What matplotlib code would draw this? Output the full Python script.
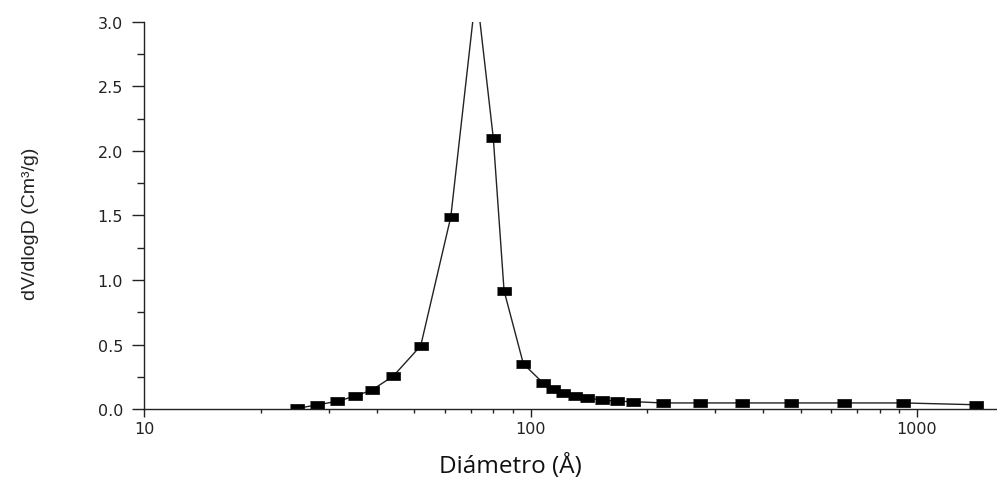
import numpy as np
import matplotlib.pyplot as plt
from matplotlib.ticker import FixedLocator, FormatStrFormatter, LogLocator, NullFormatter, MultipleLocator

plt.rcParams["font.family"] = ["DejaVu Sans"]

# pore size distribution
diameter = [24.8, 27.9, 31.6, 35.1, 38.8, 44.1, 51.9, 62.1, 72.3, 80.0, 85.3, 95.7,
            107.8, 114.4, 121.5, 130.2, 140.1, 152.7, 167.0, 184.4, 219.6, 274.4,
            353.0, 471.0, 647.0, 922.0, 1420.0]
dv_dlogd = [0.005, 0.031, 0.06, 0.10, 0.147, 0.256, 0.49, 1.49, 3.25, 2.10, 0.917, 0.35,
            0.20, 0.155, 0.124, 0.098, 0.083, 0.072, 0.060, 0.057, 0.047, 0.047,
            0.047, 0.047, 0.047, 0.047, 0.033]
x_ticks = [10, 100, 1000]
y_ticks = [0.0, 0.5, 1.0, 1.5, 2.0, 2.5, 3.0]

fig = plt.figure(figsize=(9.97, 4.81), dpi=100)
ax = fig.add_axes([0.1449, 0.1476, 0.8551, 0.8046])

rect = [(-1, -0.67), (1, -0.67), (1, 0.67), (-1, 0.67)]
ax.plot(diameter, dv_dlogd, color="#222222", lw=1.0, marker=rect, markersize=9.6,
        markerfacecolor="black", markeredgecolor="black", markeredgewidth=0.5)

ax.set_xscale("log")
ax.set_xlim(10, 1611)
ax.set_ylim(0, 3.0)

ax.xaxis.set_major_locator(FixedLocator(x_ticks))
ax.xaxis.set_major_formatter(FormatStrFormatter("%d"))
ax.xaxis.set_minor_locator(LogLocator(base=10, subs=np.arange(2, 10)))
ax.xaxis.set_minor_formatter(NullFormatter())
ax.yaxis.set_major_locator(FixedLocator(y_ticks))
ax.yaxis.set_major_formatter(FormatStrFormatter("%.1f"))
ax.yaxis.set_minor_locator(MultipleLocator(0.25))

for side in ["top", "right"]:
    ax.spines[side].set_visible(False)
for side in ["left", "bottom"]:
    ax.spines[side].set_linewidth(1.0)
    ax.spines[side].set_color("#222222")

ax.tick_params(axis="y", which="major", direction="out", length=8.5, width=1.0,
               pad=7, labelsize=11.5, colors="#222222")
ax.tick_params(axis="y", which="minor", direction="out", length=5, width=1.0, colors="#222222")
ax.tick_params(axis="x", which="major", direction="out", length=5.5, width=1.0,
               pad=3, labelsize=11.5, colors="#222222")
ax.tick_params(axis="x", which="minor", direction="out", length=3, width=1.0, colors="#222222")

ax.set_ylabel("dV/dlogD (Cm³/g)", family=["Liberation Sans", "DejaVu Sans"],
              fontsize=14, color="#222222")
ax.yaxis.set_label_coords(-0.124, 0.48)

fig.text(510, 481 - 473.3, "Diámetro (Å)", transform=None, ha="center", va="baseline",
         family=["Open Sans", "DejaVu Sans"], fontsize=17.5, color="#111111")

fig.savefig("out.png", dpi=100)
